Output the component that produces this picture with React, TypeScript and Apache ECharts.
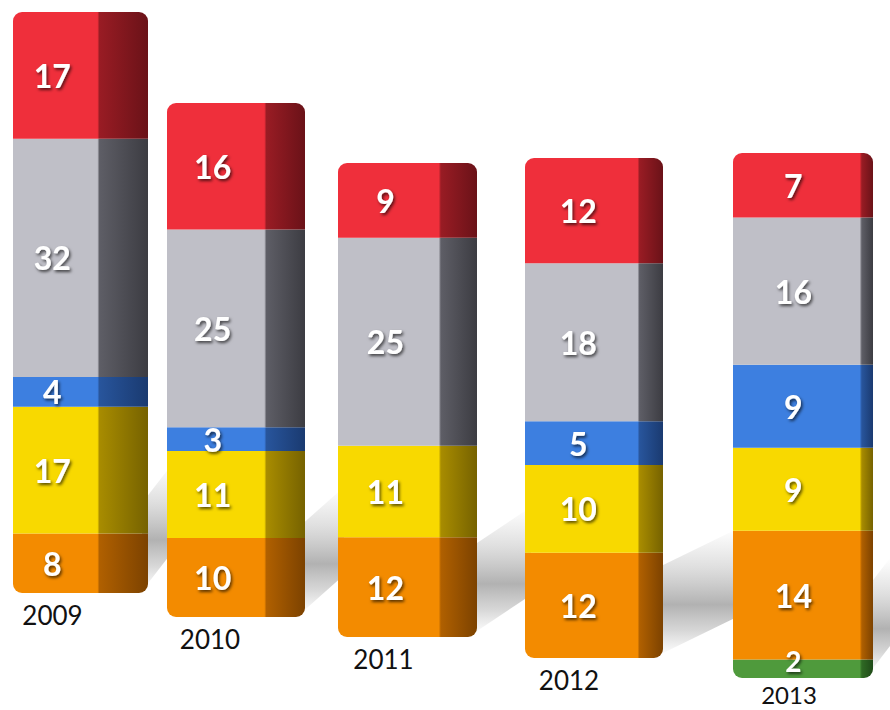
import React, { useEffect, useRef } from "react";
import * as echarts from "echarts";

const years = ["2009", "2010", "2011", "2012", "2013"];
const greenVals = [0, 0, 0, 0, 2];
const orangeVals = [8, 10, 12, 12, 14];
const yellowVals = [17, 11, 11, 10, 9];
const blueVals = [4, 3, 0, 5, 9];
const grayVals = [32, 25, 25, 18, 16];
const redVals = [17, 16, 9, 12, 7];

// layout (perspective placement of each column)
const barLeft = [13, 167, 338, 525, 733];
const barWidth = [135, 138, 139, 138, 140];
const barTop = [12, 103, 163, 158, 153];
const barBottom = [593, 617, 637, 658, 678];
const frontRatio = [0.64, 0.72, 0.74, 0.83, 0.92];
const yearShift = [-28, -26, -24, -25, -14];
const yearMargin = [9, 9, 9, 9, 4];
const yearFont = [26, 26, 26, 26, 24];

const segments = [
  { name: "green", values: greenVals, front: "#4f9a3c", side: "#2f6a24", sideDark: "#1f4a18" },
  { name: "orange", values: orangeVals, front: "#f38b00", side: "#b06000", sideDark: "#7c4200" },
  { name: "yellow", values: yellowVals, front: "#f8d900", side: "#a88c00", sideDark: "#766200" },
  { name: "blue", values: blueVals, front: "#3d7fe0", side: "#28559c", sideDark: "#1a3a70" },
  { name: "gray", values: grayVals, front: "#bfbfc7", side: "#5e5e66", sideDark: "#3c3c42" },
  { name: "red", values: redVals, front: "#ef2f3b", side: "#991c24", sideDark: "#6a1218" },
];

export default function App() {
  const ref = useRef<HTMLDivElement>(null);
  useEffect(() => {
    if (!ref.current) return;
    const chart = echarts.init(ref.current, null, { renderer: "svg" });
    const grids: any[] = [];
    const xAxes: any[] = [];
    const yAxes: any[] = [];
    const series: any[] = [];
    const shadows: any[] = [];
    years.forEach((year, i) => {
      const total = segments.reduce((s, seg) => s + seg.values[i], 0);
      grids.push({
        left: barLeft[i],
        top: barTop[i],
        width: barWidth[i],
        height: barBottom[i] - barTop[i],
      });
      xAxes.push({
        type: "category",
        gridIndex: i,
        data: [year],
        axisLine: { show: false },
        axisTick: { show: false },
        splitLine: { show: false },
        axisLabel: {
          show: true,
          margin: yearMargin[i],
          color: "#111111",
          fontFamily: "Lato",
          fontSize: yearFont[i],
          lineHeight: yearFont[i],
          padding: [0, -2 * yearShift[i], 0, 0],
        },
      });
      yAxes.push({
        type: "value",
        gridIndex: i,
        min: 0,
        max: total,
        show: false,
        splitLine: { show: false },
      });
      // decorative ground shadow cast to the right/back of each column
      const x0 = barLeft[i] + barWidth[i] - 6;
      const x1 = i < years.length - 1 ? barLeft[i + 1] + 6 : 890;
      const b = barBottom[i];
      const rise = i < years.length - 1 ? 40 : 30;
      shadows.push({
        type: "polygon",
        z: -10,
        silent: true,
        shape: {
          points: [
            [x0, b - 2],
            [x1, b - 2 - rise],
            [x1, b - 90 - rise],
            [x0, b - 90],
          ],
        },
        style: {
          fill: new echarts.graphic.LinearGradient(0, 0, 0, 1, [
            { offset: 0, color: "rgba(140,140,140,0)" },
            { offset: 0.3, color: "rgba(130,130,130,0.25)" },
            { offset: 0.6, color: "rgba(100,100,100,0.5)" },
            { offset: 0.8, color: "rgba(120,120,120,0.3)" },
            { offset: 1, color: "rgba(140,140,140,0)" },
          ]),
        },
      });
      const nonZero = segments
        .map((s, k) => (s.values[i] > 0 ? k : -1))
        .filter((k) => k >= 0);
      const firstK = nonZero[0];
      const lastK = nonZero[nonZero.length - 1];
      const fr = frontRatio[i];
      const labelOffset = barWidth[i] * (fr / 2 - 0.5) - 4;
      segments.forEach((seg, k) => {
        const v = seg.values[i];
        if (v <= 0) return;
        const r = 9;
        const radius =
          k === lastK ? [r, r, 0, 0] : k === firstK ? [0, 0, r, r] : 0;
        series.push({
          type: "bar",
          name: seg.name + "-" + year,
          xAxisIndex: i,
          yAxisIndex: i,
          stack: "s" + i,
          barWidth: "100%",
          data: [v],
          itemStyle: {
            borderRadius: radius,
            color: new echarts.graphic.LinearGradient(0, 0, 1, 0, [
              { offset: 0, color: seg.front },
              { offset: fr - 0.015, color: seg.front },
              { offset: fr, color: seg.side },
              { offset: 1, color: seg.sideDark },
            ]),
          },
          label: {
            show: true,
            position: "inside",
            offset: [labelOffset, k === 0 ? -8 : 0],
            formatter: String(v),
            color: "#ffffff",
            fontFamily: "Lato",
            fontWeight: "bold",
            fontSize: k === 0 ? 28 : 32,
            lineHeight: k === 0 ? 28 : 32,
            textShadowColor: "rgba(0,0,0,0.65)",
            textShadowBlur: 3,
            textShadowOffsetX: 1.5,
            textShadowOffsetY: 2,
          },
        });
      });
    });
    chart.setOption({
      animation: false,
      backgroundColor: "#ffffff",
      grid: grids,
      xAxis: xAxes,
      yAxis: yAxes,
      graphic: shadows,
      series,
    });
    return () => chart.dispose();
  }, []);
  return (
    <div
      ref={ref}
      style={{ position: "fixed", left: 0, top: 0, width: 890, height: 710 }}
    />
  );
}
